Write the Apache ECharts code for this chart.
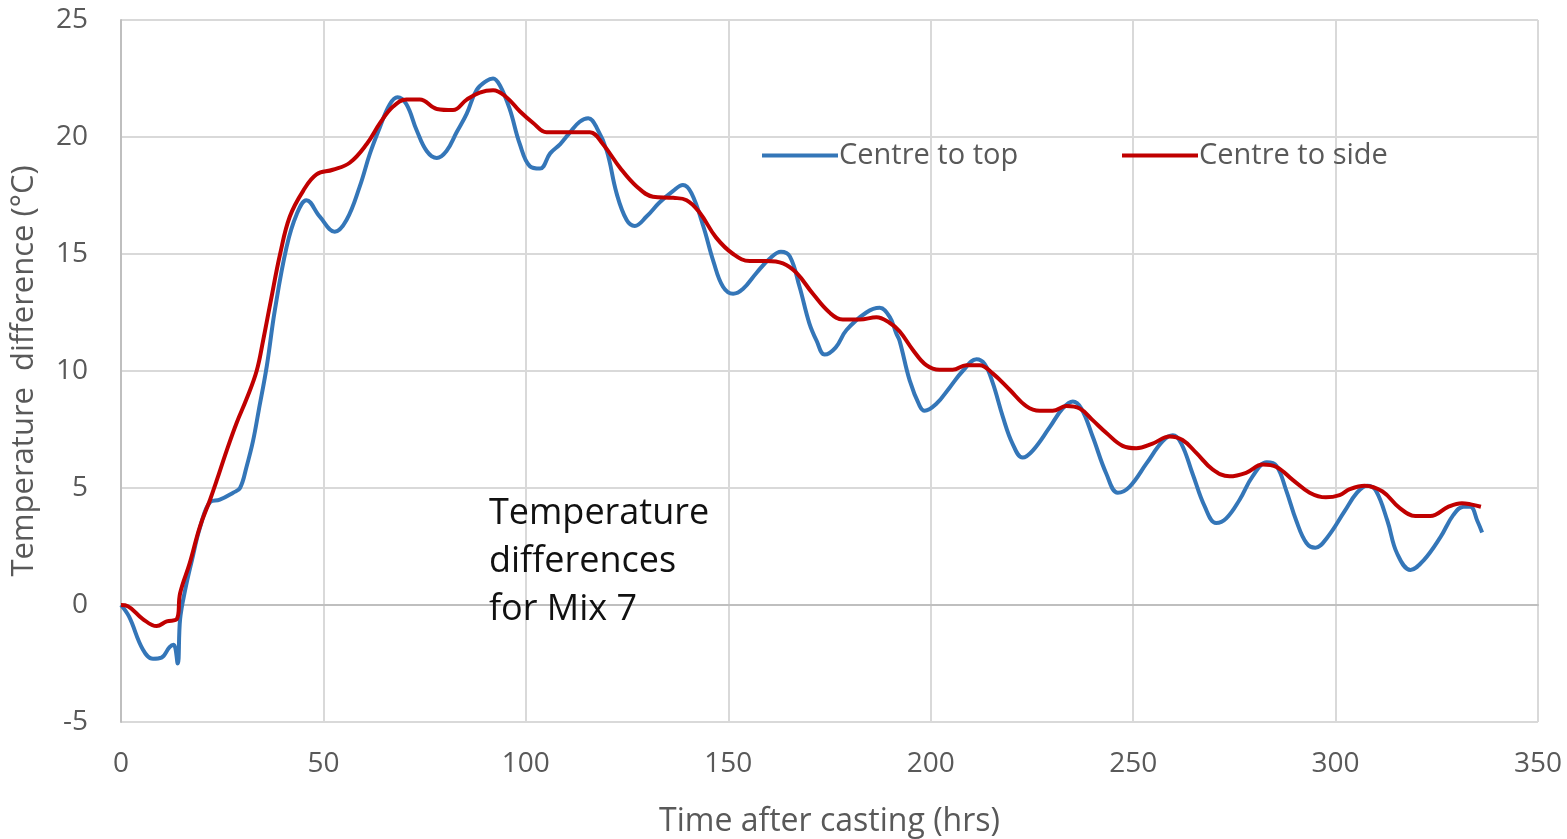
<!DOCTYPE html>
<html>
<head>
<meta charset="utf-8">
<title>Temperature differences for Mix 7</title>
<script src="https://cdn.jsdelivr.net/npm/echarts@6/dist/echarts.min.js"></script>
<style>
  html, body { margin: 0; padding: 0; background: #fff; }
  #chart { width: 1567px; height: 839px; }
</style>
</head>
<body>
<div id="chart"></div>
<script>
// Centre-to-top temperature difference (°C) against hours after casting
const topHours = [0, 2, 5.4, 7.9, 10, 12, 13, 14, 14.6, 15.8, 17.5, 19.5, 22, 24.4, 27.7, 29.4, 31, 32.6, 34, 36, 38,
  40.9, 43.4, 45.8, 49.1, 52.8, 55.7, 59, 61.5, 63.9, 66.4, 68.3, 70.5, 73, 75.5, 78, 80.4, 82.9, 85.4, 87.8, 90.3,
  91.9, 93.6, 96, 98.5, 101, 103.5, 106, 108.5, 110.9, 113.3, 115.4, 117.5, 120, 122.4, 124.9, 126.9, 129.8, 133,
  136.4, 138.8, 140.9, 143.8, 146.3, 148.7, 151.2, 153.6, 157, 160.2, 163, 165.2, 167.6, 170, 171.8, 173.8, 176.5,
  179.2, 184.1, 187.4, 189.9, 191.5, 192.3, 194.8, 197.3, 198.5, 201.4, 204.7, 207.9, 211.3, 213.3, 215.3, 217.8,
  220.2, 222.7, 225.2, 229.4, 232.6, 235.1, 237.2, 240, 243.4, 246.2, 249.1, 253.3, 257.3, 259.8, 261.9, 264.7,
  267.7, 270.5, 273, 276.3, 279.5, 283, 285.4, 287.8, 290.3, 292.8, 295, 298, 302.2, 305.3, 307.8, 309.9, 312.8,
  315.2, 318.5, 321.7, 325.9, 329.1, 331.6, 333.3, 335, 336.2];
const topDiff = [0, -0.5, -1.9, -2.3, -2.25, -1.8, -1.7, -2.5, -0.6, 0.6, 1.9, 3.3, 4.4, 4.5, 4.8, 5.0, 5.9, 7.0, 8.3, 10.2, 12.6,
  15.3, 16.7, 17.3, 16.6, 15.95, 16.45, 17.9, 19.3, 20.4, 21.4, 21.7, 21.4, 20.3, 19.4, 19.1, 19.4, 20.2, 21.0, 22.0, 22.4,
  22.5, 22.2, 21.2, 19.7, 18.75, 18.65, 19.3, 19.7, 20.2, 20.65, 20.8, 20.4, 19.4, 17.6, 16.45, 16.2, 16.6, 17.2,
  17.7, 17.95, 17.6, 16.2, 14.7, 13.6, 13.3, 13.5, 14.2, 14.8, 15.1, 14.9, 13.6, 12.05, 11.3, 10.7, 11.0,
  11.75, 12.5, 12.7, 12.3, 11.6, 11.3, 9.6, 8.5, 8.3, 8.6, 9.3, 10.0, 10.5, 10.3, 9.5, 8.05,
  6.9, 6.3, 6.6, 7.6, 8.4, 8.7, 8.4, 7.2, 5.6, 4.8, 5.05, 6.05, 7.0, 7.25, 6.9, 5.6,
  4.2, 3.5, 3.7, 4.5, 5.5, 6.1, 5.95, 4.9, 3.6, 2.65, 2.45, 2.9, 4.0, 4.8, 5.1, 4.9, 3.6,
  2.2, 1.5, 1.9, 2.9, 3.85, 4.2, 4.2, 3.6, 3.1];

// Centre-to-side temperature difference (°C) against hours after casting
const sideHours = [0, 1.7, 5.4, 8.8, 11.3, 13.8, 14.6, 17, 19.5, 22, 23.6, 26.1, 28.6, 31, 33.5, 35.1, 37, 39.3, 41.7, 45,
  48.3, 52.3, 56.5, 60.7, 64, 67.2, 70.5, 73.8, 78, 82, 85.4, 88.6, 91.9, 95.2, 98.5, 101.8, 105.1, 110, 115.8, 119,
  123.2, 127.3, 131.4, 136.4, 139.7, 143, 147, 151.2, 155.3, 159.4, 163.5, 166.8, 170.9, 175, 178.3, 182.5, 186.6,
  189.9, 192.3, 195.6, 198.9, 202.2, 205.4, 208.8, 212.1, 215.3, 219.5, 223.6, 226.9, 230.1, 233.5, 236.8, 240,
  243.4, 247.4, 250.8, 254.8, 259, 262.2, 265.6, 269.6, 273.8, 277.9, 282, 285.4, 289.4, 293.6, 297.6, 301, 303.5,
  307.2, 311.6, 315.8, 319.7, 323.4, 327.9, 331.2, 333.4, 335.9];
const sideDiff = [0, -0.05, -0.6, -0.9, -0.7, -0.6, 0.5, 1.8, 3.35, 4.5, 5.3, 6.6, 7.8, 8.8, 10.0, 11.3, 13.0, 15.0, 16.6, 17.7,
  18.4, 18.6, 18.9, 19.7, 20.6, 21.3, 21.6, 21.6, 21.2, 21.15, 21.6, 21.9, 22.0, 21.7, 21.1, 20.6, 20.2, 20.2, 20.2, 19.7,
  18.7, 17.9, 17.45, 17.4, 17.3, 16.75, 15.7, 15.0, 14.7, 14.7, 14.6, 14.2, 13.3, 12.5, 12.2, 12.2, 12.3,
  12.05, 11.7, 10.9, 10.25, 10.05, 10.05, 10.25, 10.25, 9.9, 9.2, 8.5, 8.3, 8.3, 8.5, 8.4, 7.9,
  7.35, 6.8, 6.7, 6.9, 7.2, 7.05, 6.5, 5.8, 5.5, 5.65, 6.0, 5.9, 5.35, 4.8, 4.6, 4.7, 4.95,
  5.1, 4.85, 4.15, 3.8, 3.8, 4.2, 4.35, 4.3, 4.2];

const seriesNames = ['Centre to top', 'Centre to side'];
const xTicks = { min: 0, max: 350, step: 50 };
const yTicks = { min: -5, max: 25, step: 5 };

const zip = (xs, ys) => xs.map((x, i) => [x, ys[i]]);

const FONT = '"Open Sans", Lato, sans-serif';
const AXIS_TEXT = '#595959';
const chart = echarts.init(document.getElementById('chart'), null, { renderer: 'canvas' });

const legendItem = (name, left) => ({
  data: [name], left: left, top: 136,
  itemWidth: 76, itemHeight: 4, itemGap: 4,
  icon: 'rect',
  textStyle: { fontFamily: FONT, fontSize: 29, color: AXIS_TEXT, padding: [0, 0, 0, -4] }
});

chart.setOption({
  backgroundColor: '#ffffff',
  animation: false,
  grid: { left: 121, right: 29, top: 20, bottom: 117, containLabel: false, outerBoundsMode: 'none' },
  legend: [legendItem(seriesNames[0], 757), legendItem(seriesNames[1], 1117)],
  xAxis: {
    type: 'value',
    min: xTicks.min, max: xTicks.max, interval: xTicks.step,
    name: 'Time after casting (hrs)',
    nameLocation: 'middle', nameGap: 84,
    nameTextStyle: { fontFamily: FONT, fontSize: 32, color: AXIS_TEXT },
    axisLine: { show: true, lineStyle: { color: '#bfbfbf', width: 2 } },
    axisTick: { show: false },
    axisLabel: { fontFamily: FONT, fontSize: 28, color: AXIS_TEXT, margin: 28 },
    splitLine: { show: true, lineStyle: { color: '#d9d9d9', width: 2 } }
  },
  yAxis: {
    type: 'value',
    min: yTicks.min, max: yTicks.max, interval: yTicks.step,
    name: 'Temperature  difference (°C)',
    nameLocation: 'middle', nameGap: 81,
    nameTextStyle: { fontFamily: FONT, fontSize: 31, color: AXIS_TEXT },
    axisLine: { show: true, lineStyle: { color: '#bfbfbf', width: 2 } },
    axisTick: { show: false },
    axisLabel: { fontFamily: FONT, fontSize: 28, color: AXIS_TEXT, margin: 33 },
    splitLine: { show: true, lineStyle: { color: '#d9d9d9', width: 2 } }
  },
  graphic: [
    {
      type: 'text', left: 489, top: 490, z: 10,
      style: {
        text: 'Temperature\ndifferences\nfor Mix 7',
        fontFamily: FONT, fontSize: 36, lineHeight: 48, fill: '#111111'
      }
    }
  ],
  series: [
    {
      name: seriesNames[0], type: 'line',
      data: zip(topHours, topDiff),
      showSymbol: false, smooth: 0.4,
      lineStyle: { color: '#3476b8', width: 4 },
      itemStyle: { color: '#3476b8' },
      z: 3
    },
    {
      name: seriesNames[1], type: 'line',
      data: zip(sideHours, sideDiff),
      showSymbol: false, smooth: 0.4,
      lineStyle: { color: '#c00000', width: 4 },
      itemStyle: { color: '#c00000' },
      z: 4
    }
  ]
});
</script>
</body>
</html>
